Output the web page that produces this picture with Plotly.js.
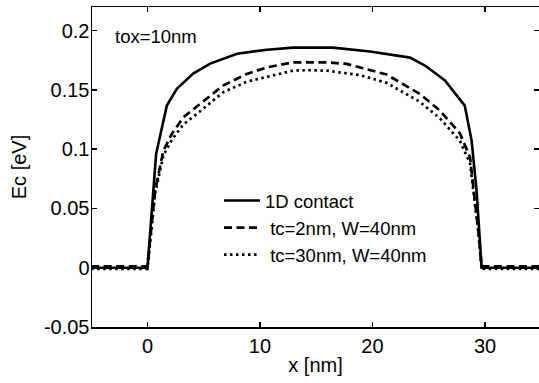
<!DOCTYPE html>
<html>
<head>
<meta charset="utf-8">
<script src="https://cdn.plot.ly/plotly-3.0.1.min.js"></script>
<style>html,body{margin:0;padding:0;background:#fff;}#chart{width:539px;height:383px;}</style>
</head>
<body>
<div id="chart"></div>
<script>
// Series: 1D contact (solid)
var x1D = [-5, 0, 0.77, 1.72, 2.61, 4.06, 5.57, 7.97, 10.63, 12.94, 16.49, 19.78, 23.33, 24.67, 26.44, 28.2, 28.81, 29.25, 29.7, 35];
var y1D = [0, 0, 0.0961, 0.1368, 0.1509, 0.1638, 0.1722, 0.1806, 0.184, 0.1857, 0.1857, 0.1824, 0.1773, 0.1706, 0.158, 0.1368, 0.1073, 0.0652, 0, 0];

// Series: tc=2nm, W=40nm (dashed)
var xTc2 = [-5, 0, 0.68, 1.42, 2.17, 3.2, 4.68, 6.72, 8.83, 10.6, 12.94, 14.16, 15.93, 17.71, 18.9, 21.26, 24.2, 26.0, 27.78, 28.67, 29.0, 29.4, 29.7, 35];
var yTc2 = [0.0012, 0.0012, 0.0652, 0.0989, 0.113, 0.127, 0.1383, 0.1537, 0.1635, 0.169, 0.1733, 0.1735, 0.1733, 0.172, 0.169, 0.163, 0.1467, 0.1326, 0.1132, 0.0932, 0.065, 0.032, 0.0012, 0.0012];

// Series: tc=30nm, W=40nm (dotted)
var xTc30 = [-5, 0, 0.68, 1.42, 2.17, 3.2, 4.68, 6.72, 8.83, 10.6, 12.94, 14.16, 15.93, 17.71, 18.9, 21.26, 24.2, 26.0, 27.78, 28.67, 29.0, 29.4, 29.7, 35];
var yTc30 = [-0.001, -0.001, 0.063, 0.095, 0.108, 0.121, 0.132, 0.148, 0.157, 0.161, 0.1663, 0.1667, 0.1663, 0.164, 0.1625, 0.156, 0.140, 0.126, 0.107, 0.088, 0.062, 0.031, -0.001, -0.001];

var seriesNames = ['1D contact', '\u00a0tc=2nm, W=40nm', '\u00a0tc=30nm, W=40nm'];

// Tick labels
var xTickVals = [0, 10, 20, 30];
var xTickText = ['0', '10', '20', '30'];
var yTickVals = [-0.05, 0, 0.05, 0.1, 0.15, 0.2];
var yTickText = ['-0.05', '0', '0.05', '0.1', '0.15', '0.2'];

var FONT = '"Liberation Sans", Arial, Helvetica, sans-serif';

var traces = [
  {x: x1D, y: y1D, name: seriesNames[0], type: 'scatter', mode: 'lines', legendgroup: 'a',
   line: {color: '#000', width: 2.6}},
  {x: xTc2, y: yTc2, name: seriesNames[1], type: 'scatter', mode: 'lines', legendgroup: 'b',
   line: {color: '#000', width: 2.7, dash: '8px,4.5px'}},
  {x: xTc30, y: yTc30, name: seriesNames[2], type: 'scatter', mode: 'lines', legendgroup: 'c',
   line: {color: '#000', width: 2.7, dash: '2.5px,3.5px'}}
];

var layout = {
  width: 539, height: 383,
  margin: {l: 92, r: 0, t: 7, b: 56, pad: 0},
  paper_bgcolor: '#fff', plot_bgcolor: '#fff',
  font: {family: FONT, size: 19, color: '#000'},
  showlegend: true,
  legend: {
    x: (219 - 92) / 447, y: (327 - 182) / 320, xanchor: 'left', yanchor: 'top',
    bgcolor: 'rgba(0,0,0,0)', borderwidth: 0,
    font: {family: FONT, size: 18.5, color: '#000'},
    itemwidth: 36, tracegroupgap: 4, traceorder: 'normal'
  },
  xaxis: {
    range: [-4.93, 34.8], autorange: false,
    tickvals: xTickVals, ticktext: xTickText,
    ticks: 'inside', ticklen: 5, tickwidth: 1.5, tickcolor: '#000',
    showline: true, linecolor: '#000', linewidth: 1.5, mirror: 'ticks',
    showgrid: false, zeroline: false,
    tickfont: {family: FONT, size: 20, color: '#000'},
    title: {text: 'x [nm]', font: {family: FONT, size: 20, color: '#000'}, standoff: 2}
  },
  yaxis: {
    range: [-0.05, 0.22], autorange: false,
    tickvals: yTickVals, ticktext: yTickText,
    ticks: 'inside', ticklen: 5, tickwidth: 1.5, tickcolor: '#000',
    showline: true, linecolor: '#000', linewidth: 1.5, mirror: 'ticks',
    showgrid: false, zeroline: false,
    ticklabelstandoff: -3,
    tickfont: {family: FONT, size: 20, color: '#000'},
    title: {text: 'Ec [eV]', font: {family: FONT, size: 20, color: '#000'}, standoff: 12}
  },
  annotations: [{
    text: 'tox=10nm', xref: 'paper', yref: 'paper',
    x: (113 - 92) / 447, y: (327 - 36.5) / 320, xanchor: 'left', yanchor: 'middle',
    showarrow: false, font: {family: FONT, size: 18.5, color: '#000'}
  }]
};

Plotly.newPlot('chart', traces, layout, {displayModeBar: false, staticPlot: true});
</script>
</body>
</html>
